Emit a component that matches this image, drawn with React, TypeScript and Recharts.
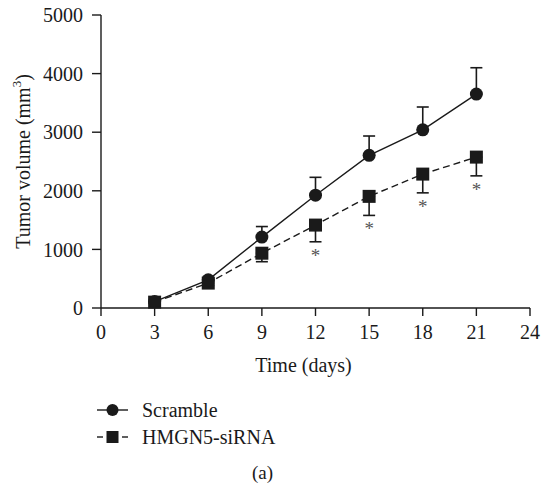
import React from 'react';
import { ComposedChart, Line, XAxis, YAxis, ErrorBar, Legend, Label } from 'recharts';

const days = [3, 6, 9, 12, 15, 18, 21];
const scramble = [110, 480, 1210, 1925, 2605, 3040, 3650];
const scrambleSem = [20, 40, 180, 305, 330, 390, 450];
const sirna = [100, 425, 935, 1415, 1905, 2285, 2575];
const sirnaSem = [20, 40, 145, 285, 325, 320, 320];
const significant = [false, false, false, true, true, true, true];

const xTicks = [0, 3, 6, 9, 12, 15, 18, 21, 24];
const yTicks = [0, 1000, 2000, 3000, 4000, 5000];

const data = days.map((d, i) => ({
  day: d,
  scramble: scramble[i],
  scrambleErr: [0, scrambleSem[i]],
  sirna: sirna[i],
  sirnaErr: [sirnaSem[i], 0],
  // star sits under the lower end of the siRNA error bar
  star: significant[i] ? sirna[i] - sirnaSem[i] : null,
}));

const FONT = '"Liberation Serif", "Times New Roman", serif';
const INK = '#1a1a1a';

const CircleDot = (props: any) => {
  const { cx, cy, index } = props;
  if (cx == null || cy == null) return <g key={index} />;
  return <circle key={index} cx={cx} cy={cy} r={6.5} fill={INK} />;
};

const SquareDot = (props: any) => {
  const { cx, cy, index } = props;
  if (cx == null || cy == null) return <g key={index} />;
  return <rect key={index} x={cx - 6.5} y={cy - 6.5} width={13} height={13} fill={INK} />;
};

const StarDot = (props: any) => {
  const { cx, cy, index, value } = props;
  if (value == null || cy == null) return <g key={index} />;
  return (
    <text key={index} x={cx} y={cy + 20} textAnchor="middle" fontFamily={FONT} fontSize={19} fill="#555">
      *
    </text>
  );
};

const YTitle = (props: any) => {
  const { viewBox } = props;
  const x = viewBox.x + 23;
  const y = viewBox.y + viewBox.height / 2;
  return (
    <text x={x} y={y} transform={`rotate(-90 ${x} ${y})`} textAnchor="middle" dominantBaseline="central" fontFamily={FONT} fontSize={20} fill={INK}>
      Tumor volume (mm<tspan dy={-7} fontSize={13}>3</tspan><tspan dy={7}>)</tspan>
    </text>
  );
};

const XTitle = (props: any) => {
  const { viewBox } = props;
  return (
    <text x={viewBox.x + viewBox.width / 2 - 12} y={viewBox.y + 64} textAnchor="middle" fontFamily={FONT} fontSize={20} fill={INK}>
      Time (days)
    </text>
  );
};

const LegendBox = () => (
  <svg width={260} height={60}>
    <g>
      <line x1={7} y1={15} x2={38} y2={15} stroke={INK} strokeWidth={1.4} />
      <circle cx={22.5} cy={15} r={6} fill={INK} />
      <text x={52} y={15} dominantBaseline="central" fontFamily={FONT} fontSize={20} fill={INK}>Scramble</text>
    </g>
    <g>
      <line x1={7} y1={42} x2={13} y2={42} stroke={INK} strokeWidth={1.4} />
      <rect x={16.5} y={36} width={12} height={12} fill={INK} />
      <line x1={32} y1={42} x2={38} y2={42} stroke={INK} strokeWidth={1.4} />
      <text x={52} y={42} dominantBaseline="central" fontFamily={FONT} fontSize={20} fill={INK}>HMGN5-siRNA</text>
    </g>
  </svg>
);

export default function App() {
  return (
    <div style={{ position: 'absolute', left: 0, top: 0, width: 542, height: 492, background: '#fff' }}>
      <ComposedChart
        width={542}
        height={492}
        data={data}
        margin={{ top: 15, right: 12, left: 0, bottom: 54 }}
      >
        <XAxis
          dataKey="day"
          type="number"
          domain={[0, 24]}
          ticks={xTicks}
          height={70}
          tickSize={8}
          tickMargin={9}
          stroke={INK}
          strokeWidth={1.4}
          tick={{ fill: INK, fontFamily: FONT, fontSize: 20 }}
          interval={0}
        >
          <Label content={XTitle} />
        </XAxis>
        <YAxis
          type="number"
          domain={[0, 5000]}
          ticks={yTicks}
          width={101}
          tickSize={9}
          tickMargin={9}
          stroke={INK}
          strokeWidth={1.4}
          tick={{ fill: INK, fontFamily: FONT, fontSize: 20 }}
          interval={0}
        >
          <Label content={YTitle} />
        </YAxis>
        <Legend
          layout="vertical"
          align="center"
          verticalAlign="bottom"
          content={LegendBox}
          wrapperStyle={{ left: 90, top: 395, bottom: 'auto', width: 260, height: 60 }}
        />
        <Line
          dataKey="sirna"
          stroke={INK}
          strokeWidth={1.4}
          strokeDasharray="7 4"
          dot={SquareDot}
          activeDot={false}
          isAnimationActive={false}
        >
          <ErrorBar dataKey="sirnaErr" direction="y" width={6} stroke={INK} strokeWidth={1.6} />
        </Line>
        <Line
          dataKey="scramble"
          stroke={INK}
          strokeWidth={1.4}
          dot={CircleDot}
          activeDot={false}
          isAnimationActive={false}
        >
          <ErrorBar dataKey="scrambleErr" direction="y" width={6} stroke={INK} strokeWidth={1.6} />
        </Line>
        <Line
          dataKey="star"
          stroke="none"
          dot={StarDot}
          activeDot={false}
          legendType="none"
          isAnimationActive={false}
        />
      </ComposedChart>
      <div
        style={{
          position: 'absolute',
          left: 0,
          top: 462,
          width: 525,
          textAlign: 'center',
          fontFamily: FONT,
          fontSize: 19,
          color: INK,
        }}
      >
        (a)
      </div>
    </div>
  );
}
